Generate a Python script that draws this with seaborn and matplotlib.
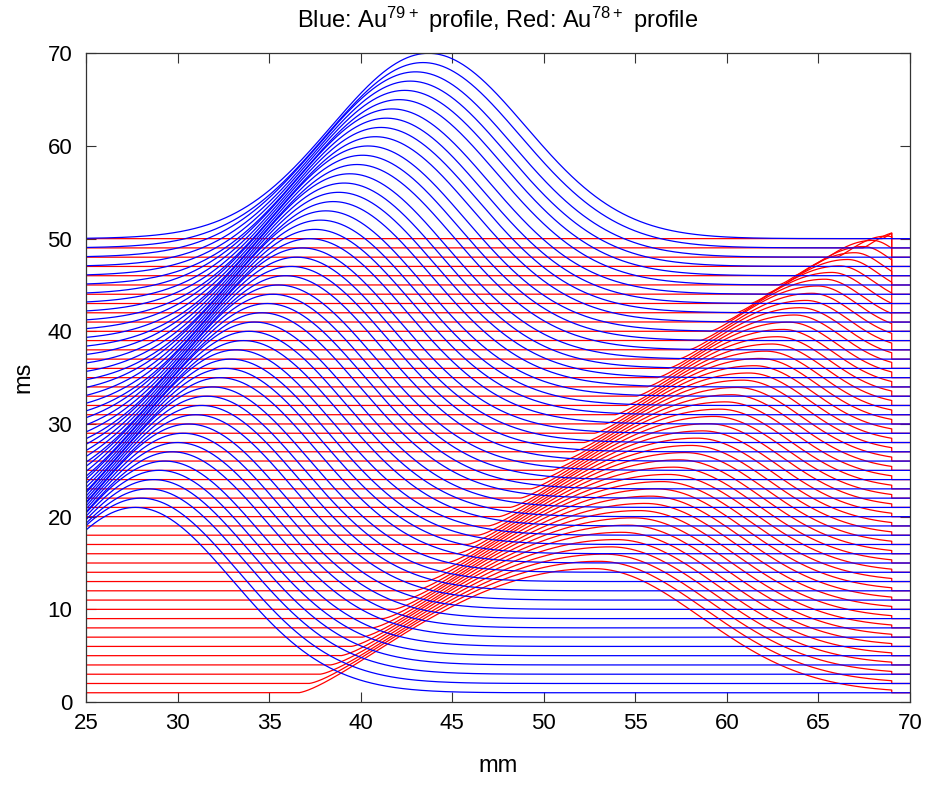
import numpy as np
import pandas as pd
import matplotlib
matplotlib.use('Agg')
import matplotlib.pyplot as plt
import seaborn as sns

# one profile per ms, drawn with its baseline at that ms
trace_ms = list(range(1, 51))

# Au79+ (blue) peak centre of each profile, mm
blue_centre = [27.7, 28.0, 28.4, 28.7, 29.0, 29.3, 29.7, 30.0, 30.3, 30.6,
               31.0, 31.3, 31.6, 31.9, 32.3, 32.6, 32.9, 33.2, 33.6, 33.9,
               34.2, 34.6, 34.9, 35.2, 35.5, 35.9, 36.2, 36.5, 36.8, 37.2,
               37.5, 37.8, 38.1, 38.5, 38.8, 39.1, 39.4, 39.8, 40.1, 40.4,
               40.8, 41.1, 41.4, 41.7, 42.1, 42.4, 42.7, 43.0, 43.4, 43.7]
blue_height = 20.0   # ms units
blue_sigma = 5.3     # mm

# Au78+ (red): first profile, later ones shrink towards the 72 mm pivot
red_centre = 52.7
red_height = 13.4
red_rise = 16.1      # mm from where it leaves the baseline to the peak
red_rise_power = 1.4
red_fall = 5.9       # sigma of the trailing side, mm
red_pivot = 72.0
red_edge = 69.0      # red profiles are cut here
red_scale = [1.000, 0.984, 0.967, 0.951, 0.935, 0.919, 0.902, 0.886, 0.870, 0.853,
             0.837, 0.821, 0.805, 0.788, 0.772, 0.756, 0.740, 0.723, 0.707, 0.691,
             0.674, 0.658, 0.642, 0.626, 0.609, 0.593, 0.577, 0.560, 0.544, 0.528,
             0.512, 0.495, 0.479, 0.463, 0.447, 0.430, 0.414, 0.398, 0.381, 0.365,
             0.345, 0.325, 0.303, 0.280, 0.260, 0.235, 0.210, 0.170, 0.130, 0.100]

x_lo, x_hi = 25, 70
xticks = [25, 30, 35, 40, 45, 50, 55, 60, 65, 70]
yticks = [0, 10, 20, 30, 40, 50, 60, 70]

x = np.linspace(x_lo, x_hi, 1801)
xr = x[x <= red_edge]

frames = []
for k, cb, lam in zip(trace_ms, blue_centre, red_scale):
    cr = red_pivot - lam * (red_pivot - red_centre)
    u = xr - cr
    lead = np.clip(1 - (u / (lam * red_rise)) ** 2, 0, None) ** red_rise_power
    trail = np.exp(-0.5 * (u / (lam * red_fall)) ** 2)
    yr = k + lam * red_height * np.where(u < 0, lead, trail)
    frames.append(pd.DataFrame({'mm': np.r_[xr, red_edge, x_hi],
                                'ms': np.r_[yr, k, k],
                                'trace': k, 'ion': 'Au78+'}))
    yb = k + blue_height * np.exp(-0.5 * ((x - cb) / blue_sigma) ** 2)
    frames.append(pd.DataFrame({'mm': x, 'ms': yb, 'trace': k, 'ion': 'Au79+'}))
df = pd.concat(frames, ignore_index=True)

sns.set_theme(style='ticks')
plt.rcParams['font.family'] = ['Liberation Sans', 'DejaVu Sans']
plt.rcParams['mathtext.default'] = 'regular'
plt.rcParams['xtick.direction'] = 'in'
plt.rcParams['ytick.direction'] = 'in'

fig = plt.figure(figsize=(9.33, 7.85), dpi=100)
ax = fig.add_axes([0.0922, 0.1057, 0.8832, 0.8264])

sns.lineplot(data=df, x='mm', y='ms', units='trace', estimator=None,
             hue='ion', hue_order=['Au78+', 'Au79+'],
             palette={'Au78+': '#ff0000', 'Au79+': '#0000ff'},
             sort=False, lw=0.9, legend=False, ax=ax)

ax.set_xlim(x_lo, x_hi)
ax.set_ylim(0, 70)
ax.set_xticks(xticks)
ax.set_yticks(yticks)
ax.tick_params(axis='both', labelsize=16, length=7, width=0.8, color='#333333',
               labelcolor='black', top=True, right=True)
ax.tick_params(axis='x', pad=8)
ax.tick_params(axis='y', pad=10)
for s in ax.spines.values():
    s.set_visible(True)
    s.set_color('#333333')
    s.set_linewidth(0.9)

ax.set_xlabel('mm', fontsize=17, labelpad=15, color='black')
ax.set_ylabel('ms', fontsize=17, labelpad=9, color='black')
ax.set_title('Blue: Au$^{79+}$ profile, Red: Au$^{78+}$ profile', fontsize=17, pad=18,
             color='black')

fig.savefig('out.png', dpi=100)
